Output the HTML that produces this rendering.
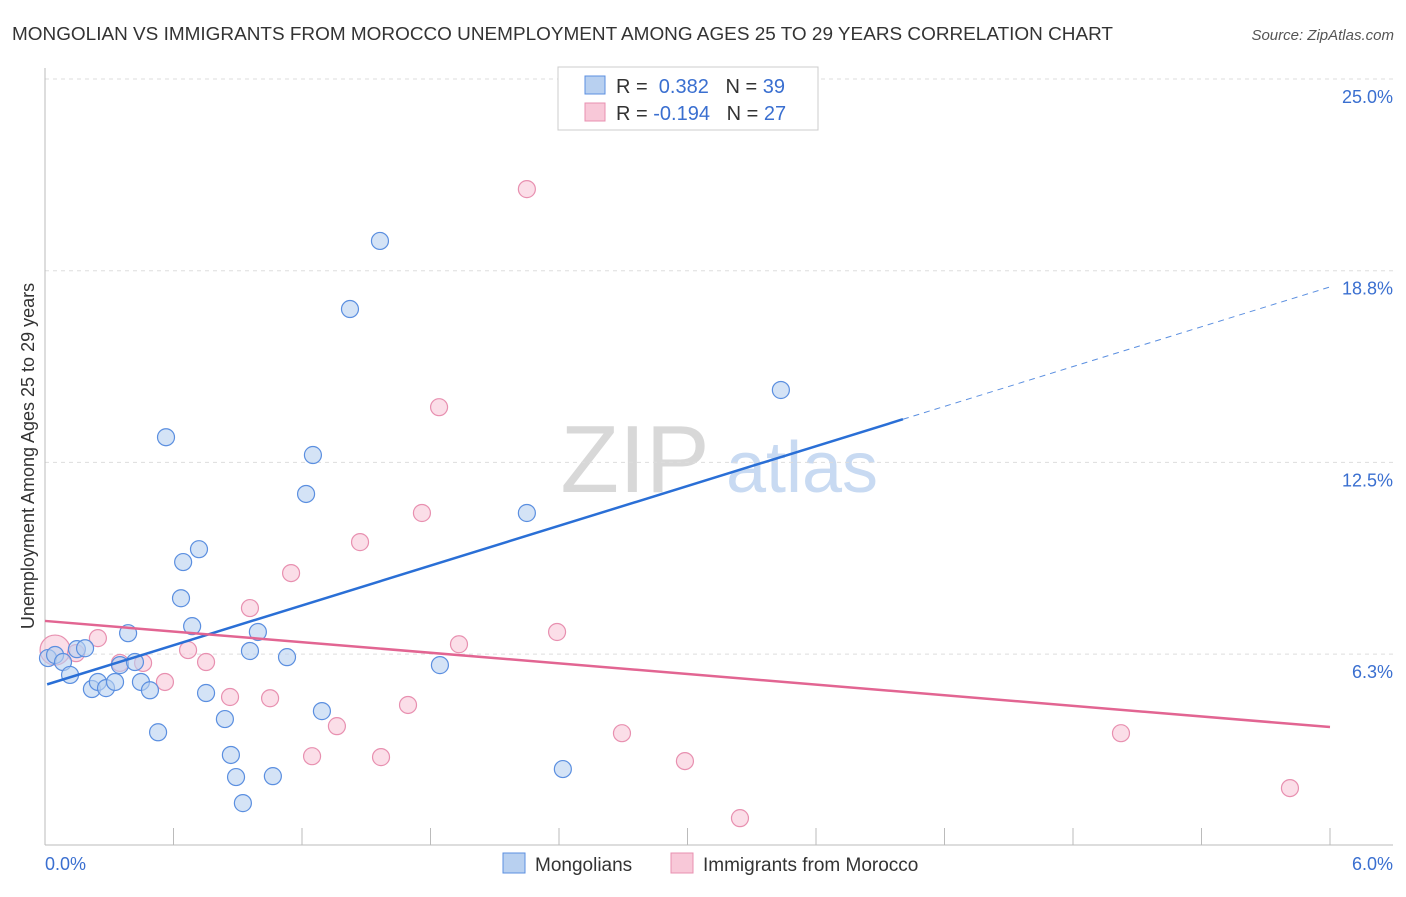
<!DOCTYPE html>
<html><head><meta charset="utf-8"><style>
body{margin:0;background:#fff;font-family:"Liberation Sans",sans-serif}
svg text{font-family:"Liberation Sans",sans-serif}
</style></head><body>
<svg width="1406" height="892" viewBox="0 0 1406 892">
<text x="12" y="40" font-size="18" fill="#333" textLength="1101" lengthAdjust="spacingAndGlyphs">MONGOLIAN VS IMMIGRANTS FROM MOROCCO UNEMPLOYMENT AMONG AGES 25 TO 29 YEARS CORRELATION CHART</text>
<text x="1394" y="40" font-size="15" fill="#555" font-style="italic" text-anchor="end">Source: ZipAtlas.com</text>
<g>
<text x="635" y="492" font-size="96" fill="#d8d8d8" font-family="Liberation Serif" text-anchor="middle">ZIP</text>
<text x="802" y="492" font-size="72" fill="#c8daf2" text-anchor="middle">atlas</text>
</g>
<g id="grid"></g>
<line x1="45" y1="68" x2="45" y2="845" stroke="#bbb"/>
<line x1="45" y1="845" x2="1393" y2="845" stroke="#bbb"/>
<g id="ticks"></g>
<text x="45" y="870" font-size="18" fill="#3a6fd0">0.0%</text>
<text x="1393" y="870" font-size="18" fill="#3a6fd0" text-anchor="end">6.0%</text>
<text transform="translate(34,456) rotate(-90)" font-size="18" fill="#333" text-anchor="middle">Unemployment Among Ages 25 to 29 years</text>
<g id="pts"></g>
<g id="trends"></g>
<g>
<rect x="558" y="67" width="260" height="63" fill="#fff" stroke="#ccc"/>
<rect x="585" y="76" width="20" height="18" fill="#b8d0f0" stroke="#5b8fe0"/>
<rect x="585" y="103" width="20" height="18" fill="#f8c8d8" stroke="#e890b0"/>
<text x="616" y="93" font-size="20" fill="#333">R = <tspan fill="#3a6fd0">&#160;0.382</tspan>&#160;&#160;&#160;N = <tspan fill="#3a6fd0">39</tspan></text>
<text x="616" y="120" font-size="20" fill="#333">R = <tspan fill="#3a6fd0">-0.194</tspan>&#160;&#160;&#160;N = <tspan fill="#3a6fd0">27</tspan></text>
</g>
<g>
<rect x="503" y="853" width="22" height="20" fill="#b8d0f0" stroke="#5b8fe0"/>
<text x="535" y="871" font-size="19" fill="#333">Mongolians</text>
<rect x="671" y="853" width="22" height="20" fill="#f8c8d8" stroke="#e890b0"/>
<text x="703" y="871" font-size="19" fill="#333">Immigrants from Morocco</text>
</g>
</svg>
<script>
const yTicks=[25,18.75,12.5,6.25];
const yTickLabels=["25.0%","18.8%","12.5%","6.3%"];
const xTicks=[0,0.6,1.2,1.8,2.4,3.0,3.6,4.2,4.8,5.4,6.0];
const blueX=[0.014,0.047,0.084,0.117,0.149,0.187,0.219,0.247,0.285,0.327,0.350,0.388,0.420,0.448,0.490,0.528,0.565,0.635,0.645,0.687,0.719,0.752,0.840,0.868,0.892,0.924,0.957,0.994,1.064,1.130,1.219,1.251,1.293,1.424,1.564,1.844,2.250,2.418,3.436];
const blueY=[6.12,6.22,5.99,5.57,6.41,6.44,5.11,5.34,5.14,5.34,5.89,6.93,5.99,5.34,5.07,3.70,13.32,8.07,9.25,7.16,9.67,4.98,4.13,2.96,2.24,1.39,6.35,6.97,2.27,6.15,11.47,12.74,4.39,17.50,19.72,5.89,10.85,2.50,14.86];
const pinkX=[0.047,0.145,0.247,0.350,0.458,0.560,0.668,0.752,0.864,0.957,1.051,1.149,1.247,1.363,1.471,1.569,1.695,1.760,1.840,1.933,2.250,2.391,2.694,2.988,3.245,5.024,5.813];
const pinkY=[6.38,6.28,6.77,5.96,5.96,5.34,6.38,5.99,4.85,7.75,4.81,8.89,2.92,3.90,9.90,2.89,4.59,10.85,14.30,6.57,21.41,6.97,3.67,2.76,0.90,3.67,1.88];
const blueTrend=[5.24,18.22];
const blueSolidEnd=4.006;
const pinkTrend=[7.33,3.87];
const NS="http://www.w3.org/2000/svg";
const X=v=>45+v/6*1285;
const Y=v=>79+(25-v)*30.67;
function mk(t,a,p){const e=document.createElementNS(NS,t);for(const k in a)e.setAttribute(k,a[k]);document.getElementById(p).appendChild(e);return e;}
yTicks.forEach((v,i)=>{
 const l=mk('line',{x1:45,x2:1393,y1:Y(v),y2:Y(v),stroke:'#ddd','stroke-dasharray':'4,4'},'grid');
 
 
 const t=mk('text',{x:1393,y:Y(v)+24,'font-size':18,fill:'#3a6fd0','text-anchor':'end'},'grid');
 t.textContent=yTickLabels[i];
 
 
});
xTicks.forEach(v=>{
 const l=mk('line',{x1:X(v),x2:X(v),y1:828,y2:845,stroke:'#bbb'},'ticks');
 
 
});
function dots(xs,ys,fill,stroke,name){
 xs.forEach((x,i)=>{
  const r=(name==='morocco-point'&&i===0)?15:8.5;
  const c=mk('circle',{cx:X(x),cy:Y(ys[i]),r:r,fill:fill,'fill-opacity':0.6,stroke:stroke,'stroke-width':1.2},'pts');
  
  
 });
}
dots(pinkX,pinkY,'#f8c8d8','#e890b0','morocco-point');
dots(blueX,blueY,'#b8d0f0','#5b8fe0','mongolian-point');
const bAt=x=>blueTrend[0]+(blueTrend[1]-blueTrend[0])*x/6;
let e=mk('line',{x1:X(0.01),y1:Y(bAt(0.01)),x2:X(blueSolidEnd),y2:Y(bAt(blueSolidEnd)),stroke:'#2a6fd6','stroke-width':2.5},'trends');


e=mk('line',{x1:X(blueSolidEnd),y1:Y(bAt(blueSolidEnd)),x2:X(6),y2:Y(bAt(6)),stroke:'#5b8fe0','stroke-width':1,'stroke-dasharray':'6,5'},'trends');


e=mk('line',{x1:X(0),y1:Y(pinkTrend[0]),x2:X(6),y2:Y(pinkTrend[1]),stroke:'#e26592','stroke-width':2.5},'trends');


</script>
</body></html>
